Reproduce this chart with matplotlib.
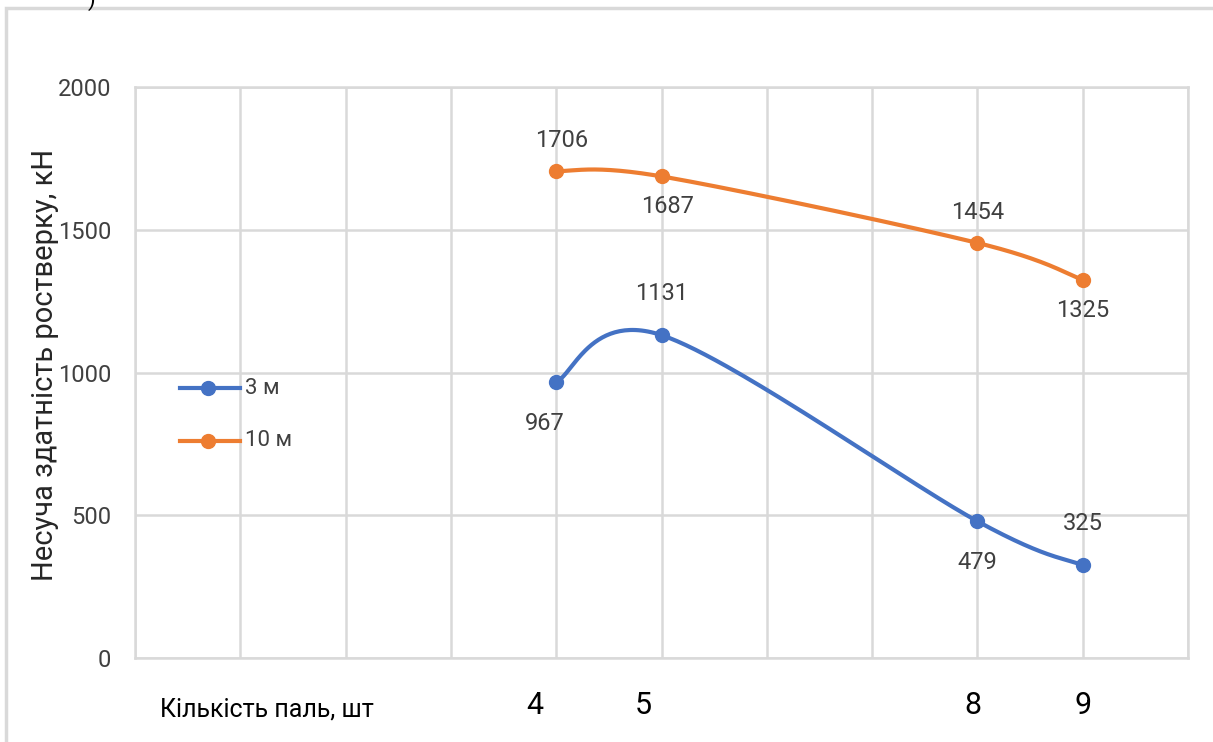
import numpy as np
import matplotlib.pyplot as plt
from matplotlib.patches import Rectangle

plt.rcParams['font.family'] = ['Roboto', 'DejaVu Sans']

piles = [4, 5, 8, 9]
load_3m = [967, 1131, 479, 325]
load_10m = [1706, 1687, 1454, 1325]
series_names = ['3 м', '10 м']
colors = ['#4472C4', '#ED7D31']
x_tick_labels = ['4', '5', '8', '9']


def smooth(xs, ys, sx=105.3, sy=0.2857, n=60):
    # Catmull-Rom through points in screen-like units (like Excel smoothed line)
    p = np.column_stack([np.array(xs) * sx, np.array(ys) * sy])
    p = np.vstack([p[0], p, p[-1]])
    out = []
    for i in range(1, len(p) - 2):
        p0, p1, p2, p3 = p[i - 1], p[i], p[i + 1], p[i + 2]
        c1 = p1 + (p2 - p0) / 6
        c2 = p2 - (p3 - p1) / 6
        t = np.linspace(0, 1, n)[:, None]
        seg = ((1 - t) ** 3 * p1 + 3 * (1 - t) ** 2 * t * c1
               + 3 * (1 - t) * t ** 2 * c2 + t ** 3 * p2)
        out.append(seg)
    out = np.vstack(out)
    return out[:, 0] / sx, out[:, 1] / sy


fig = plt.figure(figsize=(12.13, 7.42), dpi=100)
ax = fig.add_axes([0.1113, 0.1132, 0.8681, 0.7695])

for ys, c in zip([load_3m, load_10m], colors):
    sx, sy = smooth(piles, ys)
    ax.plot(sx, sy, color=c, lw=3, solid_capstyle='round', zorder=3)
    ax.plot(piles, ys, 'o', color=c, ms=10, zorder=4)

lab_color = '#404040'
offs_3m = [-1, 1, -1, 1]
offs_10m = [1, -1, 1, -1]
for x, y, o in zip(piles, load_3m, offs_3m):
    ax.annotate(str(y), (x, y), xytext=(0 if x != 4 else -8, 30 * o), textcoords='offset points',
                ha='center', va='center', fontsize=17, color=lab_color)
for x, y, o in zip(piles, load_10m, offs_10m):
    ax.annotate(str(y), (x, y), xytext=(4 if x in (4, 5) else 0, 22 * o), textcoords='offset points',
                ha='center', va='center', fontsize=17, color=lab_color)

ax.set_xlim(0, 10)
ax.set_ylim(0, 2000)
ax.set_xticks(np.arange(0, 11))
ax.set_xticklabels([])
ax.set_yticks(np.arange(0, 2001, 500))
ax.tick_params(length=0, labelsize=17, labelcolor='#404040', pad=17)
ax.grid(True, color='#d9d9d9', lw=1.8)
ax.set_axisbelow(True)
for s in ax.spines.values():
    s.set_color('#d9d9d9')
    s.set_linewidth(1.8)

fig.text(45 / 1213, 1 - 365 / 742, 'Несуча здатність ростверку, кН', fontsize=21,
         color='#262626', rotation=90, ha='center', va='center')

# legend
for i, (name, c) in enumerate(zip(series_names, colors)):
    yy = 1 - (388 + 53 * i) / 742
    fig.lines.append(plt.Line2D([180 / 1213, 240 / 1213], [yy, yy], color=c, lw=3,
                                transform=fig.transFigure))
    fig.lines.append(plt.Line2D([208 / 1213], [yy], marker='o', color=c, ms=10,
                                transform=fig.transFigure))
    fig.text(245 / 1213, yy, name, fontsize=16, color='#404040', va='center')

# x labels as separate text boxes
fig.text(160 / 1213, 1 - 710 / 742, 'Кількість паль, шт', fontsize=18, color='black', va='center')
for lbl, px in zip(x_tick_labels, [535, 643, 973, 1083]):
    fig.text(px / 1213, 1 - 705 / 742, lbl, fontsize=22, color='black', ha='center', va='center')

fig.patches.append(Rectangle((6 / 1213, -0.01), 1.02, 1 - 8 / 742 + 0.01, fill=False,
                             edgecolor='#d9d9d9', lw=2.5, transform=fig.transFigure))
fig.text(88 / 1213, 1.0, ')', fontsize=16, va='center')

fig.savefig('out.png', dpi=100)
